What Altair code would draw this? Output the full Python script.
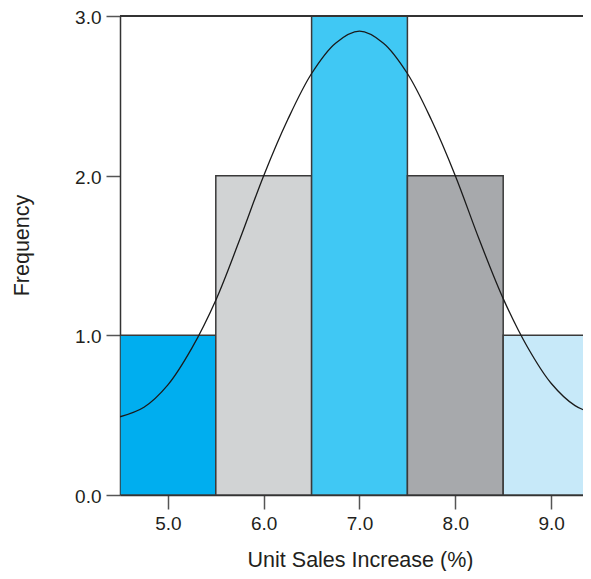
import altair as alt
import pandas as pd

# Histogram data
bin_start = [4.5, 5.5, 6.5, 7.5, 8.5]
bin_end = [5.5, 6.5, 7.5, 8.5, 9.5]
frequency = [1, 2, 3, 2, 1]
bin_names = ["5.0", "6.0", "7.0", "8.0", "9.0"]
bar_colors = ["#00AEEF", "#D1D3D4", "#40C8F4", "#A7A9AC", "#C7E9F9"]

# Fitted curve
curve_x = [4.5, 4.75, 5.0, 5.25, 5.5, 5.75, 6.0, 6.25, 6.5, 6.75, 7.0,
           7.25, 7.5, 7.75, 8.0, 8.25, 8.5, 8.75, 9.0, 9.25, 9.5]
curve_y = [0.49, 0.55, 0.69, 0.92, 1.22, 1.60, 2.00, 2.35, 2.64, 2.83, 2.905,
           2.83, 2.64, 2.35, 2.00, 1.60, 1.23, 0.93, 0.70, 0.56, 0.50]

x_ticks = [5.0, 6.0, 7.0, 8.0, 9.0]
y_ticks = [0.0, 1.0, 2.0, 3.0]

bars_df = pd.DataFrame({"start": bin_start, "end": bin_end,
                        "freq": frequency, "bin": bin_names})
curve_df = pd.DataFrame({"x": curve_x, "y": curve_y})

FONT = "Liberation Sans"
x_scale = alt.Scale(domain=[4.5, 9.333], nice=False, zero=False)
y_scale = alt.Scale(domain=[0, 3], nice=False)

x_axis = alt.Axis(values=x_ticks, format=".1f", title="Unit Sales Increase (%)",
                  grid=False, tickSize=14, tickColor="#555555", tickWidth=1.5,
                  domainColor="#333333", domainWidth=1.5,
                  labelFontSize=19, labelPadding=5, labelColor="#231F20",
                  titleFontSize=21.5, titleFontWeight="normal", titleColor="#231F20",
                  titleX=240, titleY=71, titleBaseline="alphabetic",
                  labelFont=FONT, titleFont=FONT)
y_axis = alt.Axis(values=y_ticks, format=".1f", title="Frequency",
                  grid=False, tickSize=14, tickColor="#555555", tickWidth=1.5,
                  domainColor="#333333", domainWidth=1.5,
                  labelFontSize=19, labelPadding=5, labelColor="#231F20",
                  labelOffset=1.5,
                  titleFontSize=21.5, titleFontWeight="normal", titleColor="#231F20",
                  titleX=-98, titleY=229, titleAngle=-90, titleBaseline="middle",
                  labelFont=FONT, titleFont=FONT)

bars = alt.Chart(bars_df).mark_rect(stroke="#3A3A3A", strokeWidth=1.5, clip=True).encode(
    x=alt.X("start:Q", scale=x_scale, axis=x_axis),
    x2="end:Q",
    y=alt.Y("freq:Q", scale=y_scale, axis=y_axis),
    y2=alt.datum(0),
    color=alt.Color("bin:N", scale=alt.Scale(domain=bin_names, range=bar_colors), legend=None),
)

curve = alt.Chart(curve_df).mark_line(color="#1A1A1A", strokeWidth=1.3,
                                      interpolate="catmull-rom", clip=True).encode(
    x=alt.X("x:Q", scale=x_scale),
    y=alt.Y("y:Q", scale=y_scale),
)

top_frame = alt.Chart(bars_df).mark_rule(color="#333333", strokeWidth=2).encode(
    y=alt.datum(3),
)

chart = alt.layer(bars, curve, top_frame).properties(
    width=463, height=479,
    padding={"left": 112, "top": 8, "right": 0, "bottom": 76},
    autosize=alt.AutoSizeParams(type="none"),
).configure_view(stroke=None).configure(background="white")

chart.save("out.html", embed_options={"renderer": "svg", "actions": False})
